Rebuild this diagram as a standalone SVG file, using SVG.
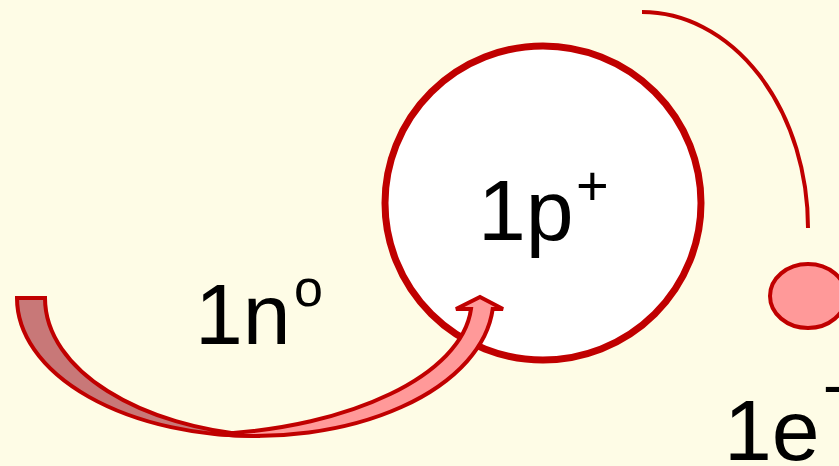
<svg xmlns="http://www.w3.org/2000/svg" width="839" height="466" viewBox="0 0 839 466">
<style>
.lbl{font-family:"Liberation Sans",Arial,sans-serif;fill:#000}
.red{stroke:#C00000;stroke-linejoin:miter}
</style>
<rect width="839" height="466" fill="#FEFCE6"/>
<g id="orbit">
<path class="red" d="M642,12 A166,216 0 0 1 808,228" fill="none" stroke-width="4"/>
</g>
<g id="proton">
<ellipse class="red" cx="543" cy="203" rx="158" ry="157" fill="#FFFFFF" stroke-width="7"/>
<text class="lbl" font-size="86"><tspan x="478" y="240">1p</tspan><tspan x="576" y="205" font-size="56">+</tspan></text>
</g>
<g id="electron">
<ellipse class="red" cx="808" cy="296" rx="38" ry="32" fill="#FF9999" stroke-width="4"/>
<text class="lbl" font-size="86"><tspan x="724" y="460">1e</tspan><tspan x="823" y="407" font-size="64">-</tspan></text>
</g>
<g id="neutron-label">
<text class="lbl" font-size="86"><tspan x="195" y="344">1n</tspan><tspan x="294" y="306" font-size="52">o</tspan></text>
</g>
<g id="connectors">
<path class="red" d="M17,298 L45,298 C45,370 140,428 260,436 A238,138 0 0 1 17,298 Z" fill="#C87878" stroke-width="4"/>
<path class="red" d="M503,309 L480,297 L456,309 L471,309 C462,375 350,428 215,434 A238,138 0 0 0 492.7,309 Z" fill="#FF9999" stroke-width="4"/>
</g>
</svg>
